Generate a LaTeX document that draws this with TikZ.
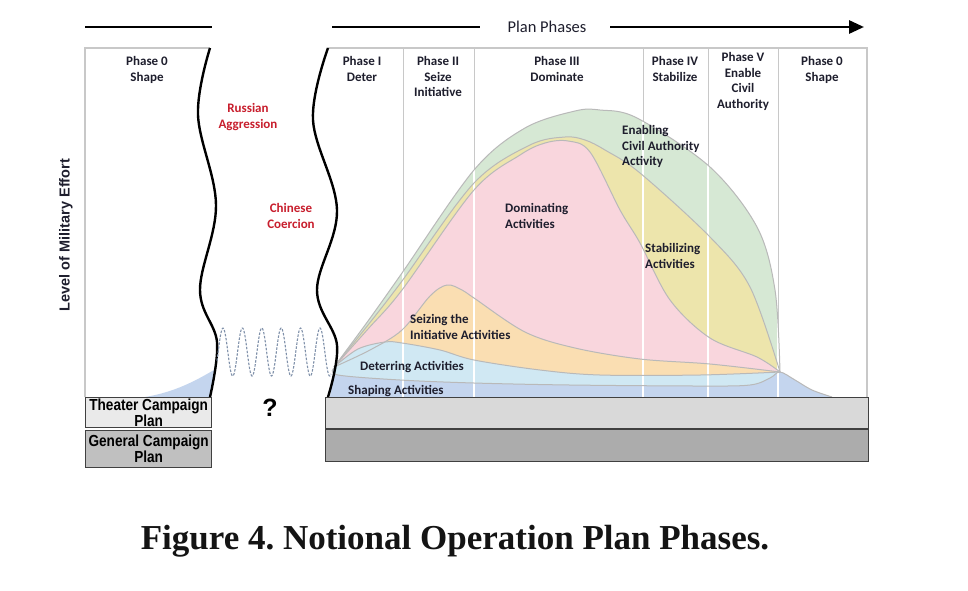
\documentclass[tikz,border=0pt]{standalone}
\usepackage{fontspec}
\setmainfont{Carlito}
\newfontfamily\capfont{Liberation Serif}
\newfontfamily\narrowfont{Liberation Sans}
\usetikzlibrary{arrows.meta}
\definecolor{cgreen}{RGB}{214,232,212}
\definecolor{cyellow}{RGB}{237,229,172}
\definecolor{cpink}{RGB}{249,214,221}
\definecolor{corange}{RGB}{250,222,178}
\definecolor{cdeter}{RGB}{208,232,243}
\definecolor{cshape}{RGB}{196,213,238}
\definecolor{edgec}{RGB}{185,185,185}
\definecolor{framec}{RGB}{200,200,200}
\definecolor{txt}{RGB}{30,30,45}
\definecolor{redtxt}{RGB}{200,30,45}
\definecolor{wavec}{RGB}{128,145,170}
\definecolor{barlight}{RGB}{217,217,217}
\definecolor{bardark}{RGB}{172,172,172}
\definecolor{boxlight}{RGB}{234,234,234}
\definecolor{boxdark}{RGB}{192,192,192}
\def\greenpts{plot[smooth,tension=0.55] coordinates{(334,367) (368,321) (402,273) (474,170) (525,128) (575,111) (600,110) (637,118) (710,167) (757,227) (775,290) (780,372)}}
\def\yellowpts{plot[smooth,tension=0.55] coordinates{(334,367) (368,325) (402,281) (474,183) (530,145) (565,137) (585,140) (605,150) (640,173) (710,237) (750,287) (780,372)}}
\def\pinkpts{plot[smooth,tension=0.55] coordinates{(334,367) (368,329) (402,290) (474,190) (520,155) (545,143) (568,141) (590,152) (620,210) (640,243) (670,300) (710,338) (757,357) (780,372)}}
\def\orangepts{plot[smooth,tension=0.55] coordinates{(334,367) (370,350) (402,330) (430,296) (447,285) (462,290) (474,298) (525,332) (575,348) (640,359) (710,364) (780,372)}}
\def\deterpts{plot[smooth,tension=0.55] coordinates{(334,367) (358,349) (385,342) (402,343) (440,350) (474,360) (540,370) (600,375) (700,375) (780,372)}}
\def\shapepts{plot[smooth,tension=0.55] coordinates{(334,368) (338,375) (400,380) (474,383) (570,385) (700,386) (750,385) (770,378) (780,372) (795,380) (812,390) (832,397)}}
\begin{document}
\frenchspacing
\begin{tikzpicture}[x=1pt,y=-1pt,
  lbl/.style={font=\bfseries\fontsize{13}{15.8}\selectfont, text=txt, align=center, inner sep=0pt, anchor=north},
  act/.style={font=\bfseries\fontsize{13}{15.8}\selectfont, text=txt, align=left, inner sep=0pt, anchor=north west},
  redlbl/.style={font=\bfseries\fontsize{13}{15.8}\selectfont, text=redtxt, align=center, inner sep=0pt, anchor=north},
  framel/.style={draw=framec, line width=1.2pt},
  divl/.style={draw=framec, line width=1pt},
  edgel/.style={draw=edgec, line width=1pt},
  wavyl/.style={draw=black, line width=2.4pt},
  thickl/.style={draw=black, line width=2.8pt},
  plantext/.style={font=\narrowfont\bfseries\fontsize{16}{12}\selectfont, align=center, inner sep=0pt}]
\useasboundingbox[fill=white] (0,0) rectangle (968,590);

% frames
\draw[framel] (85,397) -- (85,48) -- (210,48);
\draw[framel] (328,48) -- (867,48) -- (867,397);
\foreach \xx in {403,474,643,708,778} \draw[divl] (\xx,48) -- (\xx,397);

% fills
\fill[cgreen] \greenpts -- (780,397) -- (334,397) -- cycle;
\fill[cyellow] \yellowpts -- (780,397) -- (334,397) -- cycle;
\fill[cpink] \pinkpts -- (780,397) -- (334,397) -- cycle;
\fill[corange] \orangepts -- (780,397) -- (334,397) -- cycle;
\fill[cdeter] \deterpts -- (780,397) -- (334,397) -- cycle;
\fill[cshape] \shapepts -- (330,397) -- cycle;
\fill[cshape] (145,397) .. controls (175,392) and (195,381) .. (214,370) -- (211,397) -- cycle;

\begin{scope}
\clip \greenpts -- (780,397) -- (334,397) -- cycle;
\foreach \xx in {403,474,643,708,778} \draw[white, line width=1.6pt] (\xx,48) -- (\xx,397);
\end{scope}
\draw[white, line width=1.6pt] (778,372) -- (778,397);

\draw[edgel] \greenpts;
\draw[edgel] \yellowpts;
\draw[edgel] \pinkpts;
\draw[edgel] \orangepts;
\draw[edgel] \deterpts;
\draw[edgel] \shapepts;

% wavy lines
\draw[wavyl] plot[smooth,tension=0.6] coordinates{(210,48) (198,115) (216,205) (200,290) (217,342) (210,397)};
\draw[wavyl] plot[smooth,tension=0.6] coordinates{(328,48) (313,120) (337,210) (317,290) (337,345) (328,397)};
\draw[wavec, line width=1.1pt, dash pattern=on 2.5pt off 1.5pt] plot[domain=217:331, samples=200, smooth] (\x, {352-24*cos(18.557*(\x-223))});

% bars
\node[draw=black!75, line width=1.3pt, fill=boxlight, minimum width=126pt, minimum height=30pt, inner sep=0pt, anchor=north west] (tcp) at (85,397) {};
\node[plantext] (tcpt) at (tcp.center) {\scalebox{0.85}[1]{Theater Campaign}\\\scalebox{0.85}[1]{Plan}};
\node[draw=black!75, line width=1.3pt, fill=boxdark, minimum width=126pt, minimum height=37pt, inner sep=0pt, anchor=north west] (gcp) at (85,430) {};
\node[plantext] (gcpt) at (gcp.center) {\scalebox{0.85}[1]{General Campaign}\\\scalebox{0.85}[1]{Plan}};
\node[draw=black!75, line width=1.3pt, fill=barlight, minimum width=543pt, minimum height=31pt, inner sep=0pt, anchor=north west] (bar1) at (325,397) {};
\node[draw=black!75, line width=1.3pt, fill=bardark, minimum width=543pt, minimum height=32pt, inner sep=0pt, anchor=north west] (bar2) at (325,429) {};

% top line and arrow
\coordinate (tl1) at (85,27);
\coordinate (tl2) at (212,27);
\draw[thickl] (tl1) -- (tl2);
\node[font=\fontsize{16.5}{16.5}\selectfont, text=txt, inner sep=0pt] (pp) at (547,27) {Plan Phases};
\coordinate (pa1) at (332,27);
\coordinate (pa2) at (480,27);
\coordinate (pb1) at (610,27);
\coordinate (pb2) at (864,27);
\draw[thickl] (pa1) -- (pa2);
\draw[thickl, -{Triangle[length=15pt,width=13pt]}] (pb1) -- (pb2);

% phase labels
\node[lbl] (p0a) at (147,56) {Phase 0\\Shape};
\node[lbl] (p1) at (362,56) {Phase I\\Deter};
\node[lbl] (p2) at (438,56) {Phase II\\Seize\\Initiative};
\node[lbl] (p3) at (557,56) {Phase III\\Dominate};
\node[lbl] (p4) at (675,56) {Phase IV\\Stabilize};
\node[lbl] (p5) at (743,52) {Phase V\\Enable\\Civil\\Authority};
\node[lbl] (p0b) at (822,56) {Phase 0\\Shape};

\node[redlbl] (ru) at (248,103) {Russian\\Aggression};
\node[redlbl] (cn) at (291,203) {Chinese\\Coercion};
\node[font=\narrowfont\bfseries\fontsize{25}{25}\selectfont, inner sep=0pt] (q) at (270,408) {?};

\node[act] (en) at (622,125) {Enabling\\Civil Authority\\Activity};
\node[act] (dom) at (505,203) {Dominating\\Activities};
\node[act] (stab) at (645,243) {Stabilizing\\Activities};
\node[act] (seiz) at (410,314) {Seizing the\\Initiative Activities};
\node[act, anchor=west] (det) at (360,367) {Deterring Activities};
\node[act, anchor=west] (shp) at (348,391) {Shaping Activities};

\node[font=\narrowfont\bfseries\fontsize{14.5}{14.5}\selectfont, text=txt, rotate=90, inner sep=0pt] (lme) at (66,235) {Level of Military Effort};

\node[font=\capfont\bfseries\fontsize{35}{35}\selectfont, text=black!92, inner sep=0pt] (cap) at (455,541) {Figure 4. Notional Operation Plan Phases.};
\end{tikzpicture}
\end{document}
